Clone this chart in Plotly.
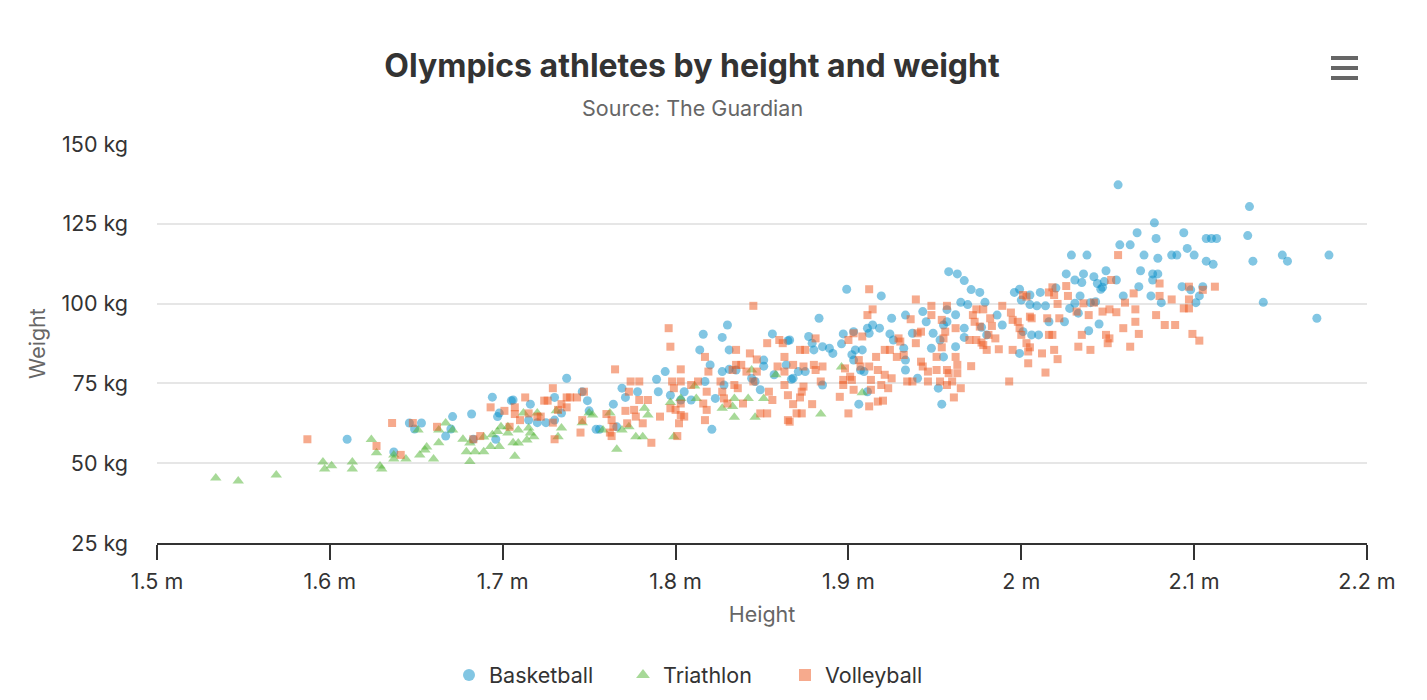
import plotly.graph_objects as go

# ---------------- data (height in m, weight in kg) ----------------
basketball_height = [
    1.610, 1.637, 1.646, 1.649, 1.653,
    1.671, 1.667, 1.670, 1.682, 1.694, 1.697, 1.698, 1.705, 1.706, 1.716, 1.715, 1.696, 1.683,
    1.720, 1.725, 1.730, 1.734, 1.737, 1.730, 1.746, 1.749, 1.750, 1.754, 1.756, 1.764, 1.769,
    1.771, 1.766,
    1.778, 1.789, 1.790, 1.794, 1.797, 1.805, 1.803, 1.809, 1.814, 1.816, 1.817, 1.820, 1.823,
    1.827, 1.827, 1.830, 1.831, 1.831, 1.828, 1.821, 1.835, 1.844, 1.846, 1.849, 1.851, 1.851,
    1.856, 1.864, 1.865, 1.867, 1.857,
    1.899, 1.919, 1.883, 1.866, 1.877, 1.879, 1.880, 1.885, 1.889, 1.891, 1.896, 1.897, 1.903,
    1.904, 1.908, 1.911, 1.914, 1.918, 1.912, 1.924, 1.925, 1.926, 1.933, 1.937, 1.943, 1.945,
    1.875, 1.871, 1.868, 1.885, 1.902, 1.903, 1.907, 1.909, 1.906, 1.911, 1.932, 1.933, 1.933,
    1.940, 1.948, 1.952, 1.954, 1.955, 1.953, 1.949, 1.958,
    2.029, 2.038, 1.963, 1.967, 1.971, 1.976, 1.979, 1.965, 1.969, 1.957, 1.962, 1.957, 1.967,
    1.967, 1.962, 1.955, 1.986, 1.989, 1.977, 1.980, 1.996, 1.999, 2.005, 2.000, 2.011, 2.005,
    2.009, 2.014, 2.016, 2.001, 2.006, 2.010, 1.999, 2.020, 2.025, 2.026, 2.031, 2.036, 2.035,
    2.034, 2.028, 2.033, 2.031, 2.040, 2.043, 2.042, 2.044, 2.047, 2.048, 2.049, 2.045, 2.039,
    2.056, 2.132, 2.077, 2.067, 2.078, 2.094, 2.057, 2.063, 2.096, 2.107, 2.110, 2.113, 2.131,
    2.071, 2.079, 2.087, 2.090, 2.100, 2.107, 2.111, 2.134, 2.151, 2.154, 2.178, 2.140, 2.171,
    2.055, 2.046, 2.069, 2.076, 2.076, 2.079, 2.068, 2.059, 2.075, 2.081, 2.093, 2.098, 2.105,
    2.103, 2.101,
]
basketball_weight = [
    57.5, 53.5, 62.6, 60.7, 62.6,
    64.6, 58.5, 60.7, 65.4, 70.7, 64.6, 65.7, 69.6, 69.8, 68.5, 63.5, 57.5, 57.5,
    62.7, 62.7, 63.5, 65.7, 76.6, 70.6, 72.4, 69.6, 66.4, 60.6, 60.6, 68.5, 73.5,
    70.6, 61.4,
    72.4, 76.3, 72.4, 78.7, 71.3, 72.4, 69.8, 69.8, 85.5, 90.4, 75.6, 80.8, 70.3,
    78.7, 89.4, 93.3, 85.5, 79.4, 74.5, 60.6, 79.2, 76.6, 75.6, 73.0, 82.3, 80.4,
    90.5, 80.8, 88.4, 76.3, 77.7,
    104.5, 102.4, 95.4, 88.6, 89.7, 87.6, 85.5, 86.5, 86.0, 84.4, 87.4, 90.5, 91.2,
    85.5, 85.5, 92.3, 93.3, 92.3, 90.7, 90.5, 95.4, 88.6, 96.4, 90.7, 97.5, 94.3,
    78.7, 78.7, 76.6, 74.5, 84.0, 82.3, 79.2, 78.7, 68.5, 72.4, 86.0, 82.3, 79.2,
    76.6, 86.0, 73.5, 68.5, 93.3, 88.6, 90.7, 110.0,
    115.2, 115.2, 109.3, 107.2, 104.4, 103.5, 100.4, 100.4, 99.7, 98.1, 96.5, 94.3, 92.3,
    89.4, 86.5, 83.3, 96.4, 93.3, 92.6, 90.2, 103.5, 104.5, 102.7, 101.1, 103.5, 99.7,
    99.3, 99.3, 94.3, 91.2, 90.2, 90.2, 84.4, 104.9, 94.3, 109.3, 107.4, 109.3, 106.6,
    102.4, 98.5, 97.0, 100.1, 100.3, 100.6, 108.4, 106.3, 105.1, 106.9, 110.3, 93.6, 91.5,
    137.2, 130.4, 125.3, 122.2, 120.4, 122.2, 118.4, 118.4, 117.3, 120.4, 120.4, 120.4, 121.3,
    115.2, 114.2, 115.2, 115.2, 115.2, 113.3, 112.3, 113.3, 115.2, 113.3, 115.2, 100.4, 95.4,
    107.4, 104.5, 110.3, 109.3, 107.4, 109.3, 105.3, 102.4, 102.4, 100.3, 105.3, 104.3, 105.3,
    102.4, 100.3,
]

triathlon_height = [
    1.534, 1.547, 1.569, 1.596, 1.597, 1.601, 1.613, 1.613, 1.624, 1.627, 1.629, 1.630, 1.637,
    1.637, 1.644, 1.651, 1.652, 1.655, 1.656, 1.660, 1.663, 1.663,
    1.667, 1.671, 1.677, 1.679, 1.681, 1.681, 1.684, 1.689, 1.689, 1.693, 1.694, 1.698, 1.697,
    1.699, 1.703, 1.703, 1.706, 1.709, 1.709, 1.707, 1.714, 1.715, 1.716, 1.718, 1.720, 1.712,
    1.731, 1.734, 1.732, 1.746, 1.750, 1.752, 1.758, 1.762, 1.766, 1.769,
    1.834, 1.846, 1.777, 1.781, 1.799, 1.784, 1.782, 1.773, 1.797, 1.803, 1.811, 1.812, 1.827,
    1.833, 1.834, 1.842, 1.851, 1.858, 1.844,
    1.884, 1.908, 1.896,
]
triathlon_weight = [
    45.4, 44.4, 46.3, 50.4, 48.2, 49.2, 50.4, 48.2, 57.4, 53.3, 49.1, 48.2, 51.3,
    52.6, 51.3, 60.4, 52.6, 54.1, 55.1, 51.3, 56.4, 60.4,
    62.6, 60.4, 57.5, 53.6, 56.3, 50.5, 53.6, 53.6, 58.2, 55.2, 58.9, 55.2, 59.9,
    61.4, 59.5, 61.4, 56.4, 56.3, 60.4, 52.2, 57.3, 61.0, 59.5, 58.3, 65.7, 65.7,
    66.4, 61.0, 58.3, 62.7, 65.7, 65.1, 60.4, 65.7, 54.4, 60.4,
    64.4, 64.4, 58.3, 58.3, 58.3, 65.1, 67.2, 61.4, 69.0, 70.3, 74.2, 70.3, 67.2,
    67.8, 70.3, 70.3, 70.3, 77.7, 79.2,
    65.4, 72.1, 80.1,
]

volleyball_height = [
    1.587, 1.636, 1.627, 1.641, 1.648, 1.662,
    1.693, 1.683, 1.687, 1.701, 1.704, 1.707, 1.707, 1.710, 1.713, 1.715, 1.720, 1.722, 1.724,
    1.726, 1.729, 1.729, 1.730, 1.732, 1.734, 1.737, 1.737, 1.739, 1.743, 1.746, 1.745, 1.747,
    1.760, 1.763, 1.764, 1.762, 1.763, 1.765, 1.771, 1.772,
    1.774, 1.779, 1.773, 1.779, 1.784, 1.776, 1.777, 1.781, 1.786, 1.796, 1.797, 1.803, 1.798,
    1.803, 1.799, 1.791, 1.797, 1.800, 1.803, 1.803, 1.805, 1.802, 1.801, 1.809, 1.813, 1.817,
    1.818, 1.816, 1.818, 1.817, 1.819, 1.826, 1.827, 1.828, 1.830, 1.833, 1.835, 1.835, 1.834,
    1.836, 1.839, 1.838, 1.841, 1.843, 1.845, 1.847, 1.847, 1.845, 1.853, 1.854, 1.856, 1.849,
    1.853, 1.859, 1.860, 1.862, 1.863, 1.863, 1.863, 1.865, 1.865, 1.868, 1.870,
    1.912, 1.939, 1.911, 1.914, 1.872, 1.875, 1.881, 1.874, 1.880, 1.881, 1.885, 1.884, 1.874,
    1.873, 1.872, 1.879, 1.873, 1.868, 1.895, 1.897, 1.897, 1.898, 1.900, 1.903, 1.908, 1.900,
    1.901, 1.902, 1.906, 1.907, 1.912, 1.913, 1.913, 1.912, 1.916, 1.917, 1.917, 1.919, 1.920,
    1.921, 1.924, 1.921, 1.923, 1.925, 1.929, 1.930, 1.928, 1.932, 1.934, 1.937, 1.939, 1.940,
    1.942, 1.936, 1.942, 1.943, 1.946, 1.946, 1.948, 1.948, 1.951, 1.951, 1.953, 1.954, 1.955,
    1.957, 1.956, 1.957, 1.957, 1.866, 1.903,
    1.962, 1.954, 1.962, 1.963, 1.963, 1.958, 1.960, 1.965, 1.961, 1.971, 1.972, 1.973, 1.974,
    1.978, 1.976, 1.982, 1.983, 1.981, 1.970, 1.974, 1.977, 1.978, 1.980, 1.985, 1.987, 1.989,
    1.994, 1.995, 1.995, 1.998, 1.999, 2.000, 2.001, 2.003, 2.005, 2.006, 2.003, 2.005, 2.004,
    2.004, 2.012, 2.014, 2.015, 2.016, 2.018, 2.016, 2.018, 2.019, 2.021, 2.019, 2.021, 2.022,
    2.026, 2.027, 2.032, 2.033, 2.035, 2.036, 2.039, 2.040, 2.042, 2.047, 2.049, 2.050, 1.993,
    2.056, 2.052, 2.080, 2.065, 2.080, 2.087, 2.097, 2.097, 2.105, 2.112, 2.060, 2.066, 2.055,
    2.051, 2.051, 2.059, 2.066, 2.068, 2.078, 2.083, 2.089, 2.094, 2.097, 2.099, 2.103, 2.063,
]
volleyball_weight = [
    57.5, 62.6, 55.4, 52.6, 62.6, 61.4,
    67.5, 57.5, 58.5, 66.4, 61.4, 67.5, 65.4, 63.5, 70.6, 65.6, 64.6, 64.6, 69.6,
    69.6, 73.5, 62.7, 57.5, 66.7, 68.5, 70.6, 67.5, 70.6, 70.6, 63.5, 59.6, 72.4,
    65.4, 63.5, 61.4, 59.6, 58.5, 79.4, 66.4, 62.5,
    75.6, 75.6, 72.4, 69.8, 69.8, 66.7, 64.6, 62.5, 56.4, 92.3, 86.5, 79.4, 75.6,
    75.6, 73.5, 64.6, 67.2, 66.7, 68.7, 65.1, 64.6, 62.5, 58.5, 74.5, 75.6, 83.3,
    72.4, 68.7, 66.7, 63.5, 78.7, 75.6, 72.4, 70.3, 68.7, 79.2, 85.5, 80.8, 74.5,
    73.5, 68.7, 80.8, 78.7, 84.4, 75.6, 82.5, 78.7, 99.3, 87.6, 72.4, 69.8, 65.6,
    65.6, 80.3, 88.6, 87.6, 83.3, 78.7, 74.5, 71.3, 63.5, 80.8, 65.6,
    104.5, 101.3, 96.4, 98.2, 85.5, 85.5, 89.1, 80.3, 80.8, 79.2, 80.3, 75.6, 74.0,
    72.4, 70.6, 68.5, 65.6, 68.5, 70.8, 74.5, 76.1, 79.7, 88.6, 90.7, 89.7, 65.6,
    77.1, 76.1, 82.3, 80.3, 80.3, 76.1, 73.0, 67.8, 83.3, 79.2, 69.3, 74.5, 69.6,
    85.5, 85.5, 77.7, 73.5, 76.6, 89.1, 88.1, 83.3, 83.9, 75.6, 75.6, 87.6, 90.7,
    91.2, 95.1, 81.8, 80.3, 78.7, 75.6, 99.3, 96.4, 83.3, 79.2, 75.6, 94.9, 89.1,
    99.3, 91.2, 79.2, 74.5, 63.0, 73.0,
    92.3, 86.3, 83.3, 80.8, 78.2, 78.2, 75.6, 73.5, 70.6, 80.4, 96.4, 94.3, 98.2,
    98.2, 92.8, 95.4, 93.0, 90.2, 88.6, 88.6, 87.8, 87.0, 85.5, 89.1, 85.7, 99.3,
    97.2, 94.9, 85.5, 94.3, 92.3, 90.2, 102.7, 102.2, 95.9, 95.4, 87.6, 86.3, 85.0,
    81.3, 84.4, 78.4, 95.4, 90.2, 90.2, 103.5, 105.1, 102.7, 99.9, 85.5, 82.6, 95.4,
    105.5, 102.4, 97.5, 86.5, 90.2, 100.1, 96.4, 85.5, 100.3, 97.5, 90.2, 87.6, 75.6,
    115.2, 107.4, 106.3, 103.2, 102.4, 101.3, 105.3, 101.3, 104.3, 105.3, 100.3, 98.2, 97.3,
    98.2, 89.1, 92.3, 94.3, 90.5, 96.4, 93.3, 93.3, 98.5, 98.5, 90.5, 88.4, 86.5,
]

series_names = ["Basketball", "Triathlon", "Volleyball"]
x_tick_values = [1.5, 1.6, 1.7, 1.8, 1.9, 2.0, 2.1, 2.2]
x_tick_labels = ["1.5 m", "1.6 m", "1.7 m", "1.8 m", "1.9 m", "2 m", "2.1 m", "2.2 m"]
y_tick_values = [25, 50, 75, 100, 125, 150]
y_tick_labels = ["25 kg", "50 kg", "75 kg", "100 kg", "125 kg", "150 kg"]

# ---------------- figure ----------------
W, H = 1427, 700
L, R, T, B = 157, 60, 144, 157
FONT = "Inter, 'Liberation Sans', Arial, sans-serif"

colors = ["rgba(5,141,199,0.5)", "rgba(80,180,50,0.5)", "rgba(237,86,27,0.5)"]
symbols = ["circle", "triangle-up", "square"]
sizes = [9, 10, 8]
legend_ids = ["legend", "legend2", "legend3"]
legend_left_px = [449, 623, 785]
xs = [basketball_height, triathlon_height, volleyball_height]
ys = [basketball_weight, triathlon_weight, volleyball_weight]

fig = go.Figure()
for name, x, y, c, s, sz, lg in zip(series_names, xs, ys, colors, symbols, sizes, legend_ids):
    fig.add_trace(go.Scatter(
        x=x, y=y, mode="markers", name=name, legend=lg,
        marker=dict(color=c, symbol=s, size=sz, line=dict(width=0)),
        hovertemplate="%{x} m, %{y} kg<extra>" + name + "</extra>",
    ))


def px_to_paper_x(px):
    return (px - L) / (W - L - R)


def px_to_paper_y(py):
    return (H - B - py) / (H - T - B)


shapes = []
for ly in (58, 68, 78):
    shapes.append(dict(
        type="line", xref="paper", yref="paper",
        x0=px_to_paper_x(1331), x1=px_to_paper_x(1358),
        y0=px_to_paper_y(ly), y1=px_to_paper_y(ly),
        line=dict(color="#666666", width=4),
    ))

legend_common = dict(
    orientation="h", xref="container", yref="container",
    xanchor="left", y=1 - 675 / H, yanchor="middle",
    font=dict(size=21.5, color="#333333", family=FONT),
    itemsizing="constant", bgcolor="rgba(0,0,0,0)",
)
legend_layouts = {}
for lg, lx in zip(legend_ids, legend_left_px):
    legend_layouts[lg] = dict(legend_common, x=lx / W)

fig.update_layout(
    width=W, height=H,
    margin=dict(l=L, r=R, t=T, b=B, autoexpand=False),
    paper_bgcolor="white", plot_bgcolor="white",
    font=dict(family=FONT, color="#333333"),
    title=dict(
        text="<b>Olympics athletes by height and weight</b>",
        font=dict(size=32, color="#333333", family=FONT),
        x=692 / W, xref="container", xanchor="center",
        y=1 - 66 / H, yref="container", yanchor="middle",
    ),
    annotations=[dict(
        text="Source: The Guardian", showarrow=False,
        xref="paper", yref="paper",
        x=px_to_paper_x(692), y=px_to_paper_y(108),
        xanchor="center", yanchor="middle",
        font=dict(size=21.5, color="#666666", family=FONT),
    )],
    shapes=shapes,
    xaxis=dict(
        range=[1.5, 2.2], tickvals=x_tick_values, ticktext=x_tick_labels,
        showgrid=False, zeroline=False,
        showline=True, linecolor="#333333", linewidth=1.5,
        ticks="outside", ticklen=15, tickwidth=1.5, tickcolor="#333333",
        tickfont=dict(size=21.5, color="#333333"),
        ticklabelstandoff=3,
        title=dict(text="Height", font=dict(size=21.5, color="#666666"), standoff=14),
    ),
    yaxis=dict(
        range=[25, 150], tickvals=y_tick_values, ticktext=y_tick_labels,
        showgrid=True, gridcolor="#e6e6e6", gridwidth=1.5,
        zeroline=False, showline=False, ticks="",
        tickfont=dict(size=21.5, color="#333333"),
        ticklabelstandoff=28,
        title=dict(text="Weight", font=dict(size=21.5, color="#666666"), standoff=10),
    ),
    showlegend=True,
    **legend_layouts,
)

fig.write_html(
    "out.html",
    include_plotlyjs=True,
    config={"displayModeBar": False},
    post_script="document.body.style.margin='0';document.body.style.overflow='hidden';",
)
